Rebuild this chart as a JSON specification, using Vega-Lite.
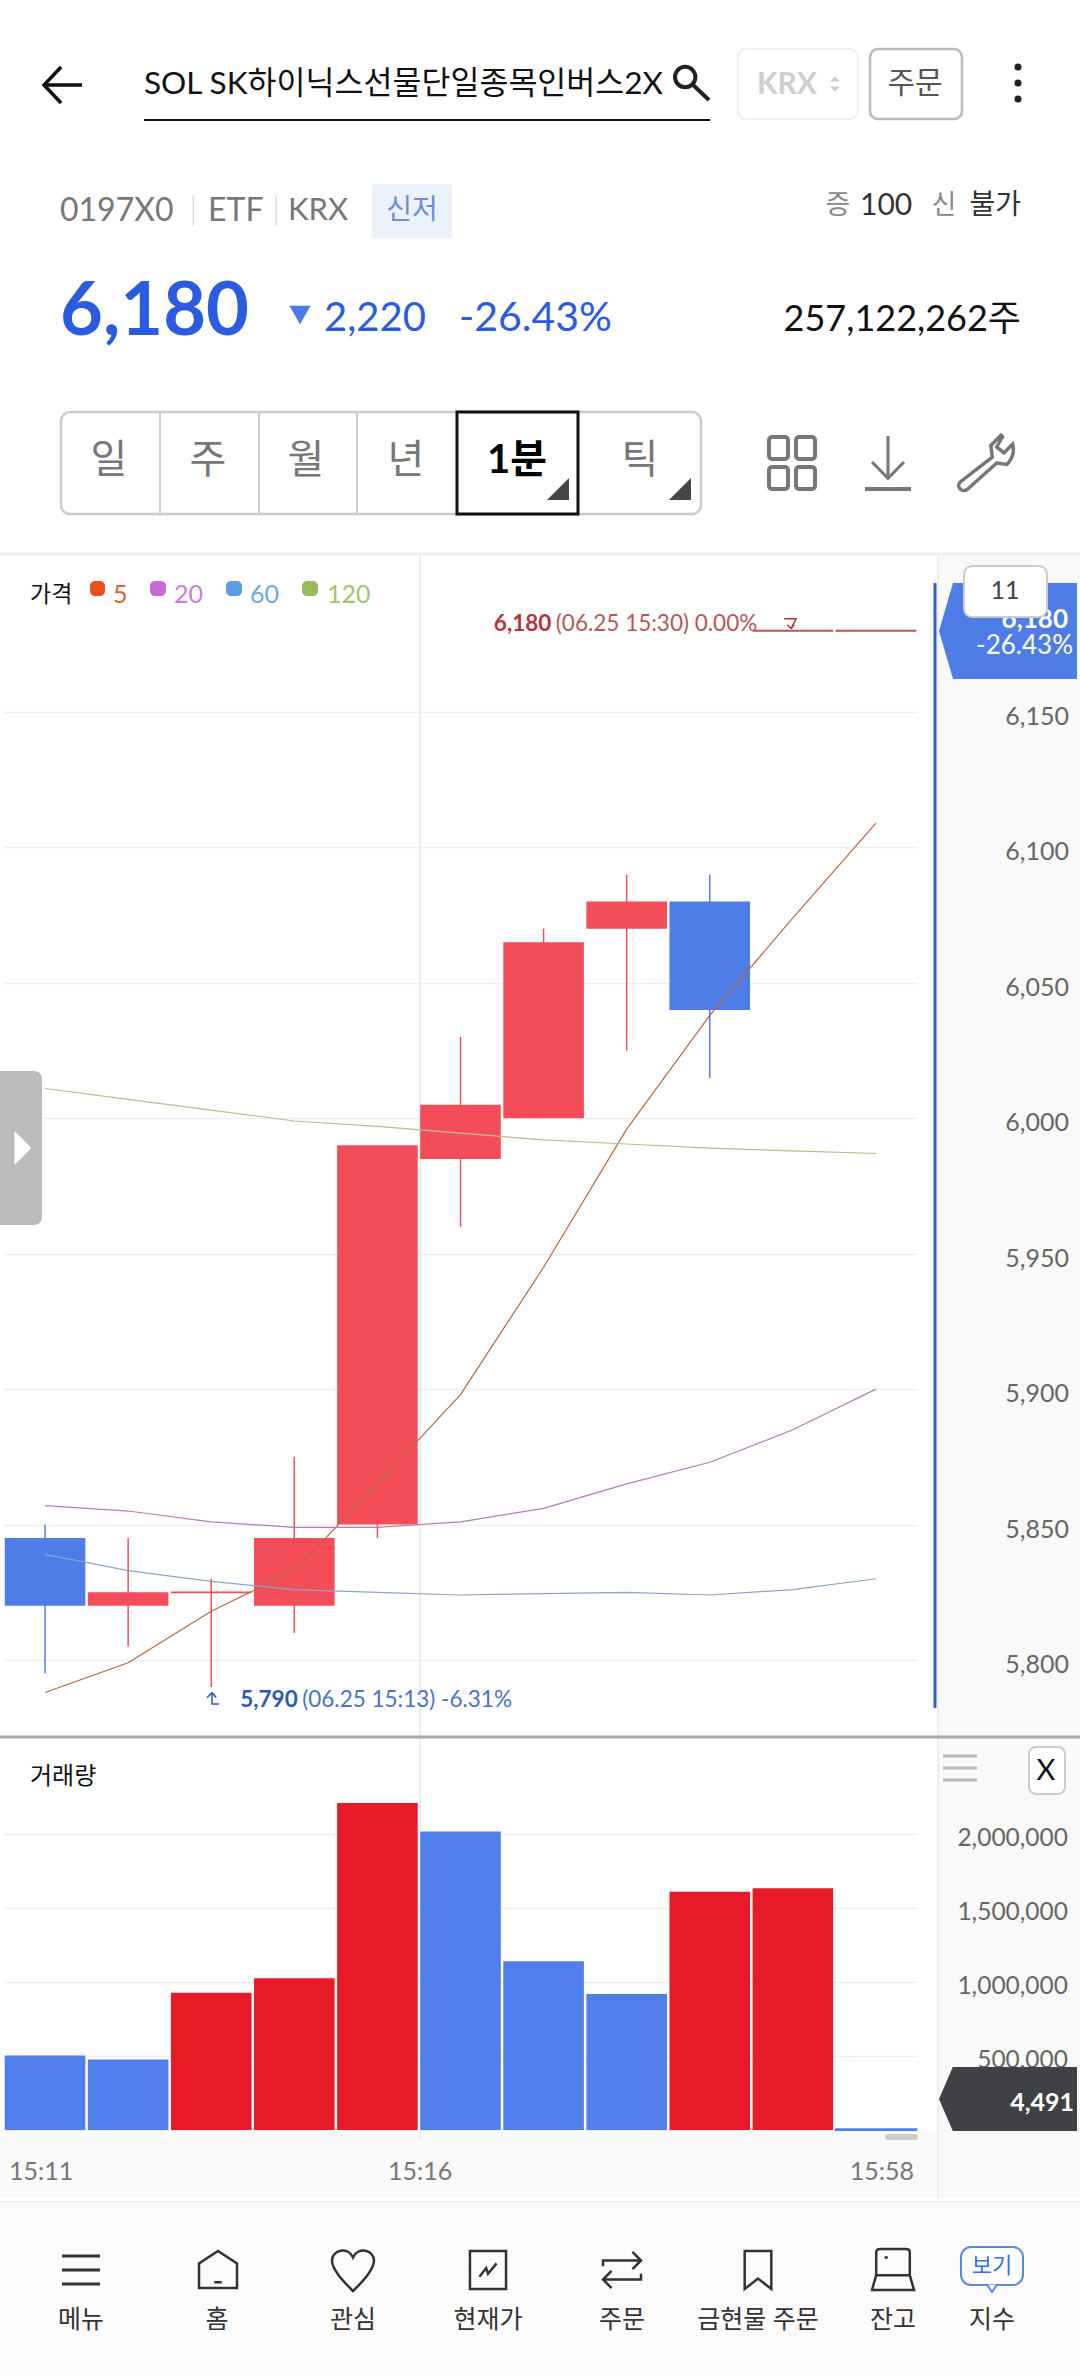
{"$schema":"https://vega.github.io/schema/vega-lite/v6.json","width":1080,"height":2376,"autosize":"none","padding":0,"background":"#ffffff","config":{"view":{"stroke":null},"text":{"font":"Lato, Noto Sans CJK KR","baseline":"middle","align":"left"}},
"datasets":{"ohlcv":[
{"t":"15:11","open":5845,"close":5820,"high":5850,"low":5795,"volume":503000,"dir":"하락","ma5":5788,"ma20":5857,"ma60":5839,"ma120":6011},
{"t":"15:12","open":5820,"close":5825,"high":5845,"low":5805,"volume":477000,"dir":"상승","ma5":5799,"ma20":5855,"ma60":5833,"ma120":6007},
{"t":"15:13","open":5825,"close":5825,"high":5830,"low":5790,"volume":927000,"dir":"상승","ma5":5818,"ma20":5851,"ma60":5829,"ma120":6003},
{"t":"15:14","open":5820,"close":5845,"high":5875,"low":5810,"volume":1026000,"dir":"상승","ma5":5833,"ma20":5849,"ma60":5826,"ma120":5999},
{"t":"15:15","open":5850,"close":5990,"high":5990,"low":5845,"volume":2209000,"dir":"상승","ma5":5865,"ma20":5849,"ma60":5825,"ma120":5997},
{"t":"15:16","open":5985,"close":6005,"high":6030,"low":5960,"volume":2017000,"dir":"상승","ma5":5898,"ma20":5851,"ma60":5824,"ma120":5994.5},
{"t":"15:17","open":6000,"close":6065,"high":6070,"low":6000,"volume":1140000,"dir":"상승","ma5":5945,"ma20":5856,"ma60":5824.5,"ma120":5992},
{"t":"15:18","open":6070,"close":6080,"high":6090,"low":6025,"volume":919000,"dir":"상승","ma5":5996,"ma20":5865,"ma60":5825,"ma120":5990.5},
{"t":"15:19","open":6080,"close":6040,"high":6090,"low":6015,"volume":1610000,"dir":"하락","ma5":6038,"ma20":5873,"ma60":5824,"ma120":5989},
{"t":"15:30","open":6180,"close":6180,"high":6180,"low":6180,"volume":1634000,"dir":"보합","ma5":6074,"ma20":5885,"ma60":5826,"ma120":5988},
{"t":"15:58","open":6180,"close":6180,"high":6180,"low":6180,"volume":4491,"dir":"보합","ma5":6109,"ma20":5900,"ma60":5830,"ma120":5987}],
"priceTicks":[{"price":6150},{"price":6100},{"price":6050},{"price":6000},{"price":5950},{"price":5900},{"price":5850},{"price":5800}],
"volTicks":[{"volume":2000000},{"volume":1500000},{"volume":1000000},{"volume":500000}]},
"layer":[
{"data":{"values":[{"part":"panel"}]},"mark":{"type":"rect","x":937,"x2":1080,"y":555,"y2":2198,"fill":"#f9f9f9"},"encoding":{}},
{"data":{"values":[{"part":"strip"}]},"mark":{"type":"rect","x":0,"x2":937,"y":2132,"y2":2198,"fill":"#fafafa"},"encoding":{}},
{"data":{"values":[{"part":"footer"}]},"mark":{"type":"rect","x":0,"x2":1080,"y":2202,"y2":2376,"fill":"#fbfbfb"},"encoding":{}},
{"data":{"values":[{"part":"line"}]},"mark":{"type":"rect","x":0,"x2":1080,"y":552.5,"y2":555.5,"fill":"#eeeeee"},"encoding":{}},
{"data":{"values":[{"part":"line"}]},"mark":{"type":"rect","x":0,"x2":1080,"y":2201,"y2":2203,"fill":"#eeeeee"},"encoding":{}},
{"data":{"values":[{"part":"line"}]},"mark":{"type":"rect","x":937,"x2":939,"y":555,"y2":2198,"fill":"#eeeeee"},"encoding":{}},
{"data":{"values":[{"t":"15:16"}]},"mark":{"type":"rule","y":555,"y2":2140,"color":"#e9e9e9","strokeWidth":1.5},"encoding":{"x":{"field":"t","type":"nominal","bandPosition":0,"axis":null,"scale":{"type":"band","domain":["15:11","15:12","15:13","15:14","15:15","15:16","15:17","15:18","15:19","15:30","15:58"],"range":[3.5,917.5],"paddingInner":0.03,"paddingOuter":0.015}}}},
{"layer":[
{"data":{"name":"ohlcv"},"mark":{"type":"rule","strokeWidth":1.5},"encoding":{"x":{"field":"t","type":"nominal","axis":null,"scale":{"type":"band"}},"y":{"field":"low","type":"quantitative","scale":{"domain":[5800,6150],"range":[1660,712],"nice":false,"zero":false},"axis":{"values":[6150,6100,6050,6000,5950,5900,5850,5800],"grid":true,"gridColor":"#efefef","gridWidth":1.5,"labels":false,"ticks":false,"domain":false,"title":null}},"y2":{"field":"high"},"color":{"field":"dir","type":"nominal","legend":null,"scale":{"domain":["상승","하락","보합"],"range":["#ea4f5c","#4f7de8","#b5565c"]}}}},
{"data":{"name":"ohlcv"},"mark":{"type":"bar"},"encoding":{"x":{"field":"t","type":"nominal","axis":null,"scale":{"type":"band"}},"y":{"field":"open","type":"quantitative","stack":null},"y2":{"field":"close"},"color":{"field":"dir","type":"nominal","legend":null,"scale":{"domain":["상승","하락","보합"],"range":["#f44d5a","#4f7de8","#b5565c"]}}}},
{"data":{"name":"ohlcv"},"transform":[{"filter":"datum.open === datum.close"}],"mark":{"type":"bar","strokeWidth":1.8},"encoding":{"x":{"field":"t","type":"nominal","axis":null,"scale":{"type":"band"}},"y":{"field":"open","type":"quantitative","stack":null},"y2":{"field":"close"},"stroke":{"field":"dir","type":"nominal","legend":null,"scale":{"domain":["상승","하락","보합"],"range":["#f44d5a","#4f7de8","#b5565c"]}}}},
{"data":{"name":"ohlcv"},"transform":[{"fold":["ma5","ma20","ma60","ma120"],"as":["series","ma"]}],"mark":{"type":"line","strokeWidth":1.2,"interpolate":"linear"},"encoding":{"x":{"field":"t","type":"nominal","axis":null,"scale":{"type":"band"}},"y":{"field":"ma","type":"quantitative"},"color":{"field":"series","type":"nominal","legend":null,"scale":{"domain":["ma5","ma20","ma60","ma120"],"range":["#b5693f","#b77bb8","#8aa5c4","#b5bf8e"]}}}},
{"data":{"values":[{"t":"15:13","price":5790,"label":"5,790"}]},"mark":{"type":"text","fontSize":22.5,"fontWeight":"bold","color":"#2a5bb5","dx":29,"dy":13},"encoding":{"x":{"field":"t","type":"nominal","axis":null,"scale":{"type":"band"}},"y":{"field":"price","type":"quantitative"},"text":{"field":"label"}}},
{"data":{"values":[{"t":"15:13","price":5790,"label":"(06.25 15:13) -6.31%"}]},"mark":{"type":"text","fontSize":22.5,"color":"#4a74bd","dx":91,"dy":13},"encoding":{"x":{"field":"t","type":"nominal","axis":null,"scale":{"type":"band"}},"y":{"field":"price","type":"quantitative"},"text":{"field":"label"}}},
{"data":{"values":[{"t":"15:30","price":6180,"label":"6,180"}]},"mark":{"type":"text","fontSize":22.5,"fontWeight":"bold","color":"#b5333c","dx":-299,"dy":-7},"encoding":{"x":{"field":"t","type":"nominal","axis":null,"scale":{"type":"band"}},"y":{"field":"price","type":"quantitative"},"text":{"field":"label"}}},
{"data":{"values":[{"t":"15:30","price":6180,"label":"(06.25 15:30) 0.00%"}]},"mark":{"type":"text","fontSize":22.5,"color":"#b5575c","dx":-237,"dy":-7},"encoding":{"x":{"field":"t","type":"nominal","axis":null,"scale":{"type":"band"}},"y":{"field":"price","type":"quantitative"},"text":{"field":"label"}}},
{"data":{"name":"priceTicks"},"mark":{"type":"text","x":1069,"align":"right","fontSize":25,"color":"#666666","dy":5},"encoding":{"y":{"field":"price","type":"quantitative"},"text":{"field":"price","format":","}}}
],"resolve":{"scale":{"color":"independent"}}},
{"layer":[
{"data":{"name":"ohlcv"},"mark":{"type":"bar"},"encoding":{"x":{"field":"t","type":"nominal","axis":null,"scale":{"type":"band"}},"y":{"field":"volume","type":"quantitative","stack":null,"scale":{"domain":[0,2000000],"range":[2130,1834],"nice":false},"axis":{"orient":"left","values":[2000000,1500000,1000000,500000,0],"grid":true,"gridColor":"#efefef","gridWidth":1.5,"labels":false,"ticks":false,"domain":false,"title":null}},"color":{"field":"t","type":"nominal","legend":null,"scale":{"domain":["15:11","15:12","15:13","15:14","15:15","15:16","15:17","15:18","15:19","15:30","15:58"],"range":["#507eea","#507eea","#e81a28","#e81a28","#e81a28","#507eea","#507eea","#507eea","#e81a28","#e81a28","#507eea"]}}}},
{"data":{"name":"ohlcv"},"transform":[{"filter":"datum.volume < 10000"}],"mark":{"type":"bar","stroke":"#507eea","strokeWidth":2},"encoding":{"x":{"field":"t","type":"nominal","axis":null,"scale":{"type":"band"}},"y":{"field":"volume","type":"quantitative","stack":null}}},
{"data":{"name":"volTicks"},"mark":{"type":"text","x":1068,"align":"right","fontSize":24.5,"color":"#666666","dy":5},"encoding":{"y":{"field":"volume","type":"quantitative"},"text":{"field":"volume","format":","}}}
]},
{"data":{"values":[{"t":"15:11"}]},"mark":{"type":"text","y":2172,"align":"center","fontSize":25,"color":"#777777","dx":-4},"encoding":{"x":{"field":"t","type":"nominal","axis":null,"scale":{"type":"band"}},"text":{"field":"t"}}},
{"data":{"values":[{"t":"15:16"}]},"mark":{"type":"text","y":2172,"align":"center","fontSize":25,"color":"#777777"},"encoding":{"x":{"field":"t","type":"nominal","bandPosition":0,"axis":null,"scale":{"type":"band"}},"text":{"field":"t"}}},
{"data":{"values":[{"t":"15:58"}]},"mark":{"type":"text","y":2172,"align":"center","fontSize":25,"color":"#777777","dx":6},"encoding":{"x":{"field":"t","type":"nominal","axis":null,"scale":{"type":"band"}},"text":{"field":"t"}}},
{"data":{"values":[{"part":"line"}]},"mark":{"type":"rect","x":0,"x2":1080,"y":1735.5,"y2":1738.5,"fill":"#aaaaaa"},"encoding":{}},
{"data":{"values":[{"part":"line"}]},"mark":{"type":"rect","x":933.5,"x2":936.5,"y":583,"y2":1708,"fill":"#2f5fc4"},"encoding":{}},
{"data":{"values":[{"part":"pill"}]},"mark":{"type":"rect","x":885,"x2":918,"y":2134,"y2":2140,"fill":"#cccccc","cornerRadius":3},"encoding":{}},
{"data":{"values":[{"part":"handle"}]},"mark":{"type":"rect","x":0,"x2":42,"y":1071,"y2":1225,"fill":"#bbbbbb","cornerRadiusTopRight":8,"cornerRadiusBottomRight":8},"encoding":{}},
{"data":{"values":[{"part":"handleArrow"}]},"mark":{"type":"point","x":23,"y":1148,"shape":"M-0.5,-1 L0.5,0 L-0.5,1 Z","size":1156,"filled":true,"fill":"#ffffff","opacity":1},"encoding":{}},
{"data":{"values":[{"part":"hook"}]},"mark":{"type":"point","x":790,"y":623,"shape":"M-1,-0.7 L1,-0.7 L0.2,0.9 M-0.5,0.3 L0.2,0.9 L0.7,0.3","size":144,"filled":false,"stroke":"#b5333c","strokeWidth":1.5,"opacity":1},"encoding":{}},
{"data":{"values":[{"part":"hook"}]},"mark":{"type":"point","x":212,"y":1699,"shape":"M-0.7,-0.2 L0,-0.9 L0.6,-0.2 M0,-0.9 L0,0.7 L1,0.7","size":196,"filled":false,"stroke":"#2a5bb5","strokeWidth":1.5,"opacity":1},"encoding":{}},
{"data":{"values":[{"label":"가격"}]},"mark":{"type":"text","x":30,"y":595,"fontSize":23,"color":"#111111"},"encoding":{"text":{"field":"label"}}},
{"data":{"values":[{"s":"5"}]},"mark":{"type":"rect","x":90,"x2":105,"y":581,"y2":596,"fill":"#e8501e","cornerRadius":5},"encoding":{}},
{"data":{"values":[{"s":"20"}]},"mark":{"type":"rect","x":150,"x2":166,"y":581,"y2":596,"fill":"#c469d6","cornerRadius":5},"encoding":{}},
{"data":{"values":[{"s":"60"}]},"mark":{"type":"rect","x":226,"x2":242,"y":581,"y2":596,"fill":"#5b9bdf","cornerRadius":5},"encoding":{}},
{"data":{"values":[{"s":"120"}]},"mark":{"type":"rect","x":302,"x2":318,"y":581,"y2":596,"fill":"#95bb5e","cornerRadius":5},"encoding":{}},
{"data":{"values":[{"label":"5"}]},"mark":{"type":"text","x":113,"y":595,"align":"left","fontSize":25,"color":"#d9602b"},"encoding":{"text":{"field":"label"}}},
{"data":{"values":[{"label":"20"}]},"mark":{"type":"text","x":174,"y":595,"fontSize":25,"color":"#c583d6"},"encoding":{"text":{"field":"label"}}},
{"data":{"values":[{"label":"60"}]},"mark":{"type":"text","x":250,"y":595,"fontSize":25,"color":"#6ea8dd"},"encoding":{"text":{"field":"label"}}},
{"data":{"values":[{"label":"120"}]},"mark":{"type":"text","x":327,"y":595,"fontSize":25,"color":"#a3c272"},"encoding":{"text":{"field":"label"}}},
{"data":{"values":[{"part":"tag"}]},"mark":{"type":"point","x":1008,"y":631,"shape":"M-1,-0.696 L1,-0.696 L1,0.696 L-0.797,0.696 L-1,0 L-0.797,-0.696 Z","size":19044,"filled":true,"fill":"#4f7de8","opacity":1},"encoding":{}},
{"data":{"values":[{"label":"6,180"}]},"mark":{"type":"text","x":1068,"y":620,"align":"right","fontSize":26,"fontWeight":"bold","color":"#ffffff"},"encoding":{"text":{"field":"label"}}},
{"data":{"values":[{"label":"-26.43%"}]},"mark":{"type":"text","x":1073,"y":646,"align":"right","fontSize":26,"color":"#ffffff"},"encoding":{"text":{"field":"label"}}},
{"data":{"values":[{"part":"badge"}]},"mark":{"type":"rect","x":964,"x2":1047,"y":566,"y2":617,"fill":"#ffffff","stroke":"#cccccc","strokeWidth":2,"cornerRadius":8},"encoding":{}},
{"data":{"values":[{"label":"11"}]},"mark":{"type":"text","x":1005,"y":591,"align":"center","fontSize":25,"color":"#444444"},"encoding":{"text":{"field":"label"}}},
{"data":{"values":[{"part":"tag"}]},"mark":{"type":"point","x":1008,"y":2099,"shape":"M-1,0 L-0.8,-0.464 L1,-0.464 L1,0.464 L-0.8,0.464 Z","size":19044,"filled":true,"fill":"#3f4145","opacity":1},"encoding":{}},
{"data":{"values":[{"label":"4,491"}]},"mark":{"type":"text","x":1074,"y":2103,"align":"right","fontSize":25,"fontWeight":"bold","color":"#ffffff"},"encoding":{"text":{"field":"label"}}},
{"data":{"values":[{"label":"거래량"}]},"mark":{"type":"text","x":30,"y":1777,"fontSize":24,"color":"#111111"},"encoding":{"text":{"field":"label"}}},
{"data":{"values":[{"part":"burger"}]},"mark":{"type":"point","x":960,"y":1768,"shape":"M-1,-0.7 L1,-0.7 M-1,0 L1,0 M-1,0.7 L1,0.7","size":1156,"filled":false,"stroke":"#bbbbbb","strokeWidth":3,"opacity":1},"encoding":{}},
{"data":{"values":[{"part":"closeBox"}]},"mark":{"type":"rect","x":1029,"x2":1065,"y":1747,"y2":1794,"fill":"#ffffff","stroke":"#cccccc","strokeWidth":2,"cornerRadius":7},"encoding":{}},
{"data":{"values":[{"label":"X"}]},"mark":{"type":"text","x":1046,"y":1771,"align":"center","fontSize":29,"color":"#111111"},"encoding":{"text":{"field":"label"}}},
{"data":{"values":[{"part":"back"}]},"mark":{"type":"point","x":63,"y":85,"shape":"M1,0 L-1,0 M-0.1,-0.95 L-1,0 L-0.1,0.95","size":1444,"filled":false,"stroke":"#111111","strokeWidth":3.5,"opacity":1},"encoding":{}},
{"data":{"values":[{"label":"SOL SK하이닉스선물단일종목인버스2X"}]},"mark":{"type":"text","x":144,"y":85,"fontSize":31.5,"color":"#111111"},"encoding":{"text":{"field":"label"}}},
{"data":{"values":[{"part":"line"}]},"mark":{"type":"rect","x":144,"x2":710,"y":119,"y2":121,"fill":"#111111"},"encoding":{}},
{"data":{"values":[{"part":"search"}]},"mark":{"type":"point","x":692,"y":83,"shape":"M0.2,-0.35 A0.6,0.6 0 1 1 -1,-0.35 A0.6,0.6 0 1 1 0.2,-0.35 M0.05,0.1 L1,1","size":1156,"filled":false,"stroke":"#222222","strokeWidth":4,"opacity":1},"encoding":{}},
{"data":{"values":[{"part":"krxBox"}]},"mark":{"type":"rect","x":738,"x2":858,"y":49,"y2":119,"fill":"#ffffff","stroke":"#f0f0f0","strokeWidth":2,"cornerRadius":8},"encoding":{}},
{"data":{"values":[{"label":"KRX"}]},"mark":{"type":"text","x":757,"y":85,"fontSize":30,"fontWeight":"bold","color":"#cfcfcf"},"encoding":{"text":{"field":"label"}}},
{"data":{"values":[{"part":"sort"}]},"mark":{"type":"point","x":835,"y":84,"shape":"M-0.6,-0.3 L0,-1 L0.6,-0.3 Z M-0.6,0.3 L0,1 L0.6,0.3 Z","size":256,"filled":true,"fill":"#cfcfcf","opacity":1},"encoding":{}},
{"data":{"values":[{"part":"orderBox"}]},"mark":{"type":"rect","x":870,"x2":962,"y":49,"y2":119,"fill":"#ffffff","stroke":"#bbbbbb","strokeWidth":2.5,"cornerRadius":8},"encoding":{}},
{"data":{"values":[{"label":"주문"}]},"mark":{"type":"text","x":915,"y":84,"align":"center","fontSize":30,"color":"#555555"},"encoding":{"text":{"field":"label"}}},
{"data":{"values":[{"p":"1"}]},"mark":{"type":"point","x":1018,"y":67,"filled":true,"size":50,"fill":"#222222","opacity":1},"encoding":{}},
{"data":{"values":[{"p":"2"}]},"mark":{"type":"point","x":1018,"y":83,"filled":true,"size":50,"fill":"#222222","opacity":1},"encoding":{}},
{"data":{"values":[{"p":"3"}]},"mark":{"type":"point","x":1018,"y":99,"filled":true,"size":50,"fill":"#222222","opacity":1},"encoding":{}},
{"data":{"values":[{"label":"0197X0"}]},"mark":{"type":"text","x":60,"y":211,"fontSize":32,"color":"#777777"},"encoding":{"text":{"field":"label"}}},
{"data":{"values":[{"part":"sep"}]},"mark":{"type":"rect","x":192.5,"x2":194,"y":195,"y2":226,"fill":"#dddddd"},"encoding":{}},
{"data":{"values":[{"label":"ETF"}]},"mark":{"type":"text","x":208,"y":211,"fontSize":32,"color":"#777777"},"encoding":{"text":{"field":"label"}}},
{"data":{"values":[{"part":"sep"}]},"mark":{"type":"rect","x":275.5,"x2":277,"y":195,"y2":226,"fill":"#dddddd"},"encoding":{}},
{"data":{"values":[{"label":"KRX"}]},"mark":{"type":"text","x":288,"y":211,"fontSize":31,"color":"#777777"},"encoding":{"text":{"field":"label"}}},
{"data":{"values":[{"part":"chip"}]},"mark":{"type":"rect","x":372,"x2":452,"y":184,"y2":238,"fill":"#ecf2fb","cornerRadius":3},"encoding":{}},
{"data":{"values":[{"label":"신저"}]},"mark":{"type":"text","x":412,"y":211,"align":"center","fontSize":28,"color":"#6a8fd8"},"encoding":{"text":{"field":"label"}}},
{"data":{"values":[{"label":"증"}]},"mark":{"type":"text","x":838,"y":206,"align":"center","fontSize":27,"color":"#888888"},"encoding":{"text":{"field":"label"}}},
{"data":{"values":[{"label":"100"}]},"mark":{"type":"text","x":860,"y":206,"fontSize":30,"color":"#333333"},"encoding":{"text":{"field":"label"}}},
{"data":{"values":[{"label":"신"}]},"mark":{"type":"text","x":944,"y":206,"align":"center","fontSize":27,"color":"#888888"},"encoding":{"text":{"field":"label"}}},
{"data":{"values":[{"label":"불가"}]},"mark":{"type":"text","x":1021,"y":206,"align":"right","fontSize":28,"color":"#333333"},"encoding":{"text":{"field":"label"}}},
{"data":{"values":[{"label":"6,180"}]},"mark":{"type":"text","x":60,"y":313,"fontSize":74,"fontWeight":"bold","color":"#2a5be0"},"encoding":{"text":{"field":"label"}}},
{"data":{"values":[{"part":"down"}]},"mark":{"type":"point","x":300,"y":315,"shape":"triangle-down","size":450,"filled":true,"fill":"#4a7be8","opacity":1},"encoding":{}},
{"data":{"values":[{"label":"2,220"}]},"mark":{"type":"text","x":324,"y":319,"fontSize":40,"color":"#2a5be0"},"encoding":{"text":{"field":"label"}}},
{"data":{"values":[{"label":"-26.43%"}]},"mark":{"type":"text","x":459,"y":319,"fontSize":41,"color":"#2a5be0"},"encoding":{"text":{"field":"label"}}},
{"data":{"values":[{"label":"257,122,262주"}]},"mark":{"type":"text","x":1021,"y":320,"align":"right","fontSize":36,"color":"#111111"},"encoding":{"text":{"field":"label"}}},
{"data":{"values":[{"part":"tabs"}]},"mark":{"type":"rect","x":61,"x2":701,"y":412,"y2":514,"fill":"#ffffff","stroke":"#cccccc","strokeWidth":2.5,"cornerRadius":9},"encoding":{}},
{"data":{"values":[{"part":"sep"}]},"mark":{"type":"rect","x":159,"x2":161,"y":412,"y2":514,"fill":"#cccccc"},"encoding":{}},
{"data":{"values":[{"part":"sep"}]},"mark":{"type":"rect","x":258,"x2":260,"y":412,"y2":514,"fill":"#cccccc"},"encoding":{}},
{"data":{"values":[{"part":"sep"}]},"mark":{"type":"rect","x":356,"x2":358,"y":412,"y2":514,"fill":"#cccccc"},"encoding":{}},
{"data":{"values":[{"part":"active"}]},"mark":{"type":"rect","x":457,"x2":578,"y":412,"y2":514,"fill":"#ffffff","stroke":"#111111","strokeWidth":3},"encoding":{}},
{"data":{"values":[{"label":"일"}]},"mark":{"type":"text","x":109,"y":461,"align":"center","fontSize":40,"color":"#777777"},"encoding":{"text":{"field":"label"}}},
{"data":{"values":[{"label":"주"}]},"mark":{"type":"text","x":208,"y":461,"align":"center","fontSize":40,"color":"#777777"},"encoding":{"text":{"field":"label"}}},
{"data":{"values":[{"label":"월"}]},"mark":{"type":"text","x":306,"y":461,"align":"center","fontSize":40,"color":"#777777"},"encoding":{"text":{"field":"label"}}},
{"data":{"values":[{"label":"년"}]},"mark":{"type":"text","x":406,"y":461,"align":"center","fontSize":40,"color":"#777777"},"encoding":{"text":{"field":"label"}}},
{"data":{"values":[{"label":"1분"}]},"mark":{"type":"text","x":517,"y":461,"align":"center","fontSize":40,"fontWeight":"bold","color":"#000000"},"encoding":{"text":{"field":"label"}}},
{"data":{"values":[{"label":"틱"}]},"mark":{"type":"text","x":640,"y":461,"align":"center","fontSize":40,"color":"#777777"},"encoding":{"text":{"field":"label"}}},
{"data":{"values":[{"part":"corner"}]},"mark":{"type":"point","x":558,"y":489,"shape":"M1,-1 L1,1 L-1,1 Z","size":484,"filled":true,"fill":"#44464a","opacity":1},"encoding":{}},
{"data":{"values":[{"part":"corner"}]},"mark":{"type":"point","x":680,"y":489,"shape":"M1,-1 L1,1 L-1,1 Z","size":484,"filled":true,"fill":"#44464a","opacity":1},"encoding":{}},
{"data":{"values":[{"part":"gridIcon"}]},"mark":{"type":"rect","x":769,"x2":788,"y":437,"y2":459,"stroke":"#777777","strokeWidth":4,"fill":"#ffffff","cornerRadius":3},"encoding":{}},
{"data":{"values":[{"part":"gridIcon"}]},"mark":{"type":"rect","x":796,"x2":815,"y":437,"y2":459,"stroke":"#777777","strokeWidth":4,"fill":"#ffffff","cornerRadius":3},"encoding":{}},
{"data":{"values":[{"part":"gridIcon"}]},"mark":{"type":"rect","x":769,"x2":788,"y":467,"y2":489,"stroke":"#777777","strokeWidth":4,"fill":"#ffffff","cornerRadius":3},"encoding":{}},
{"data":{"values":[{"part":"gridIcon"}]},"mark":{"type":"rect","x":796,"x2":815,"y":467,"y2":489,"stroke":"#777777","strokeWidth":4,"fill":"#ffffff","cornerRadius":3},"encoding":{}},
{"data":{"values":[{"part":"download"}]},"mark":{"type":"point","x":888,"y":458,"shape":"M0,-1.1 L0,1 M-0.8,0.2 L0,1.02 L0.8,0.2","size":1600,"filled":false,"stroke":"#777777","strokeWidth":3,"opacity":1},"encoding":{}},
{"data":{"values":[{"part":"line"}]},"mark":{"type":"rect","x":865,"x2":911,"y":487,"y2":491,"fill":"#777777"},"encoding":{}},
{"data":{"values":[{"part":"wrench"}]},"mark":{"type":"point","x":985,"y":463,"shape":"M0.55,-0.95 L0.2,-0.6 L0.25,-0.2 L-0.85,0.65 C-1,0.8 -0.8,1.05 -0.6,0.9 L0.4,0 L0.75,0.05 C1,-0.2 1,-0.5 0.95,-0.65 L0.65,-0.35 L0.4,-0.55 L0.6,-0.9 Z","size":3400,"filled":false,"stroke":"#777777","strokeWidth":3.5,"opacity":1},"encoding":{}},
{"data":{"values":[{"part":"menu"}]},"mark":{"type":"point","x":81,"y":2270,"shape":"M-1,-0.74 L1,-0.74 M-1,0 L1,0 M-1,0.74 L1,0.74","size":1444,"filled":false,"stroke":"#333333","strokeWidth":3,"opacity":1},"encoding":{}},
{"data":{"values":[{"part":"home"}]},"mark":{"type":"point","x":218,"y":2270,"shape":"M0,-1 L1,-0.35 L1,0.95 L-1,0.95 L-1,-0.35 Z M-0.2,0.65 L0.2,0.65","size":1444,"filled":false,"stroke":"#333333","strokeWidth":2.5,"opacity":1},"encoding":{}},
{"data":{"values":[{"part":"heart"}]},"mark":{"type":"point","x":353,"y":2270,"shape":"M0,1 C-0.4,0.6 -1,0 -1,-0.45 C-1,-0.95 -0.25,-1.15 0,-0.6 C0.25,-1.15 1,-0.95 1,-0.45 C1,0 0.4,0.6 0,1 Z","size":1764,"filled":false,"stroke":"#333333","strokeWidth":2.5,"opacity":1},"encoding":{}},
{"data":{"values":[{"part":"quote"}]},"mark":{"type":"point","x":488,"y":2270,"shape":"M-0.95,-1 L0.95,-1 L0.95,1 L-0.95,1 Z M-0.45,0.35 L-0.1,-0.1 L0,0.2 L0.45,-0.35","size":1444,"filled":false,"stroke":"#333333","strokeWidth":2.5,"opacity":1},"encoding":{}},
{"data":{"values":[{"part":"swap"}]},"mark":{"type":"point","x":622,"y":2270,"shape":"M-1,-0.2 L-1,-0.5 L1,-0.5 M0.55,-0.95 L1,-0.5 L0.55,-0.05 M1,0.2 L1,0.5 L-1,0.5 M-0.55,0.05 L-1,0.5 L-0.55,0.95","size":1444,"filled":false,"stroke":"#333333","strokeWidth":2.5,"opacity":1},"encoding":{}},
{"data":{"values":[{"part":"bookmark"}]},"mark":{"type":"point","x":758,"y":2270,"shape":"M-0.7,-1 L0.7,-1 L0.7,1 L0,0.45 L-0.7,1 Z","size":1444,"filled":false,"stroke":"#333333","strokeWidth":2.5,"opacity":1},"encoding":{}},
{"data":{"values":[{"part":"balance"}]},"mark":{"type":"point","x":893,"y":2270,"shape":"M-0.8,0.25 L-0.8,-0.85 Q-0.8,-1 -0.6,-1 L0.6,-1 Q0.8,-1 0.8,-0.85 L0.8,0.25 M-0.8,0.25 L0.8,0.25 L1,0.95 L-1,0.95 Z M-0.4,-0.6 L-0.25,-0.6","size":1764,"filled":false,"stroke":"#333333","strokeWidth":2.5,"opacity":1},"encoding":{}},
{"data":{"values":[{"part":"bubble"}]},"mark":{"type":"rect","x":961,"x2":1023,"y":2247,"y2":2285,"fill":"#ffffff","stroke":"#5a8ae0","strokeWidth":2,"cornerRadius":10},"encoding":{}},
{"data":{"values":[{"part":"tail"}]},"mark":{"type":"point","x":992,"y":2287,"shape":"M-1,-0.5 L0,1 L1,-0.5","size":100,"filled":true,"fill":"#ffffff","stroke":"#5a8ae0","strokeWidth":2,"opacity":1},"encoding":{}},
{"data":{"values":[{"label":"보기"}]},"mark":{"type":"text","x":992,"y":2266,"align":"center","fontSize":22,"color":"#3a6fd8"},"encoding":{"text":{"field":"label"}}},
{"data":{"values":[{"label":"메뉴"}]},"mark":{"type":"text","x":81,"y":2320,"align":"center","fontSize":25,"color":"#333333"},"encoding":{"text":{"field":"label"}}},
{"data":{"values":[{"label":"홈"}]},"mark":{"type":"text","x":217,"y":2320,"align":"center","fontSize":25,"color":"#333333"},"encoding":{"text":{"field":"label"}}},
{"data":{"values":[{"label":"관심"}]},"mark":{"type":"text","x":353,"y":2320,"align":"center","fontSize":25,"color":"#333333"},"encoding":{"text":{"field":"label"}}},
{"data":{"values":[{"label":"현재가"}]},"mark":{"type":"text","x":488,"y":2320,"align":"center","fontSize":25,"color":"#333333"},"encoding":{"text":{"field":"label"}}},
{"data":{"values":[{"label":"주문"}]},"mark":{"type":"text","x":622,"y":2320,"align":"center","fontSize":25,"color":"#333333"},"encoding":{"text":{"field":"label"}}},
{"data":{"values":[{"label":"금현물 주문"}]},"mark":{"type":"text","x":758,"y":2320,"align":"center","fontSize":25,"color":"#333333"},"encoding":{"text":{"field":"label"}}},
{"data":{"values":[{"label":"잔고"}]},"mark":{"type":"text","x":893,"y":2320,"align":"center","fontSize":25,"color":"#333333"},"encoding":{"text":{"field":"label"}}},
{"data":{"values":[{"label":"지수"}]},"mark":{"type":"text","x":992,"y":2320,"align":"center","fontSize":25,"color":"#333333"},"encoding":{"text":{"field":"label"}}}
],"resolve":{"scale":{"y":"independent","color":"independent"}}}
